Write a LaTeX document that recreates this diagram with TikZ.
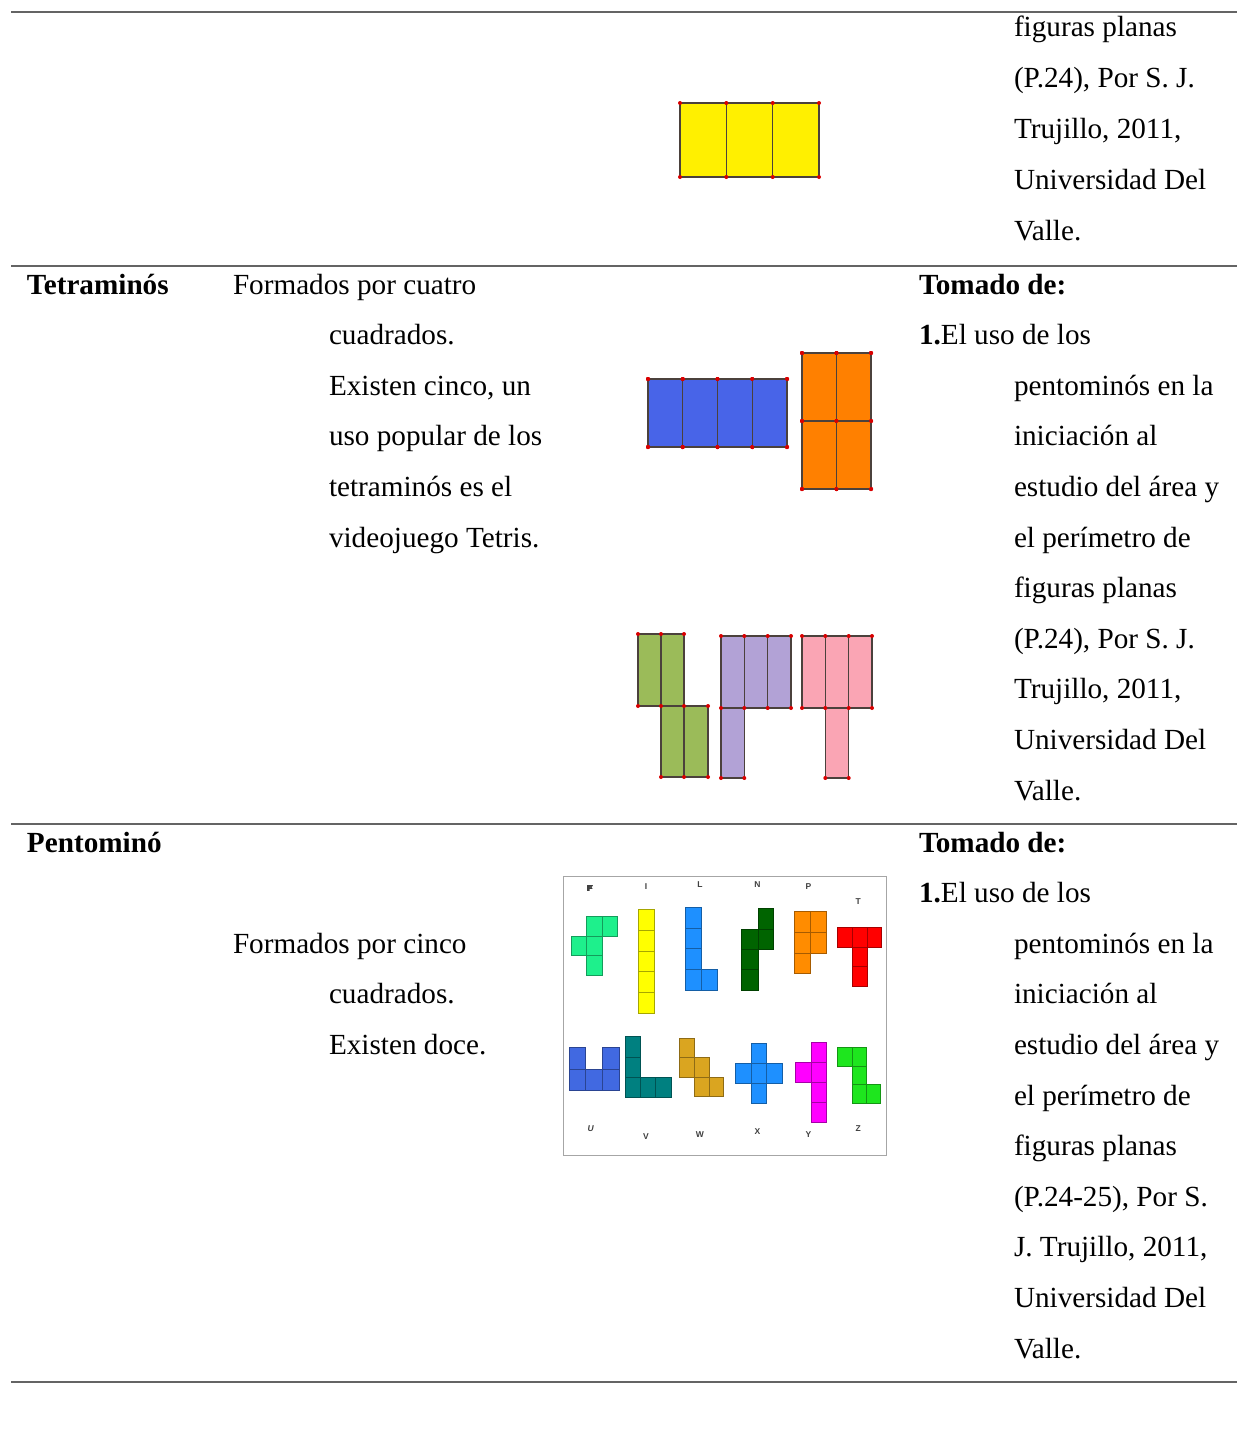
\documentclass[tikz,border=0pt]{standalone}
\usepackage{fontspec}
\setmainfont{Liberation Serif}
\newfontfamily\lsans{Liberation Sans}
\definecolor{rulec}{RGB}{100,100,100}
\definecolor{edgec}{RGB}{75,65,60}
\definecolor{tyellow}{RGB}{255,240,0}
\definecolor{tblue}{RGB}{72,100,232}
\definecolor{torange}{RGB}{255,128,0}
\definecolor{tgreen}{RGB}{155,187,89}
\definecolor{tpurple}{RGB}{178,162,214}
\definecolor{tpink}{RGB}{250,165,180}
\definecolor{pF}{RGB}{30,240,140}
\definecolor{pI}{RGB}{255,255,0}
\definecolor{pL}{RGB}{30,144,255}
\definecolor{pN}{RGB}{0,100,0}
\definecolor{pP}{RGB}{255,140,0}
\definecolor{pT}{RGB}{255,0,0}
\definecolor{pU}{RGB}{65,105,225}
\definecolor{pV}{RGB}{0,128,128}
\definecolor{pW}{RGB}{218,165,32}
\definecolor{pY}{RGB}{255,0,255}
\definecolor{pZ}{RGB}{30,230,30}
\newcommand\tline[4]{\node[txt] (#1) at (#2,#3) {#4};}
\newcommand\tcell[5]{\filldraw[tetcell,fill=#5] (#1,#2) rectangle (#3,#4);}
\newcommand\pcell[5]{\filldraw[pentcell,fill=#5,draw=#5!65!black] (#1,#2) rectangle (#3,#4);}
\begin{document}
\begin{tikzpicture}[x=1pt,y=-1pt,
  txt/.style={anchor=base west,inner sep=0pt,outer sep=0pt,font=\fontsize{29.2}{50.6}\selectfont},
  rulel/.style={draw=rulec,line width=2pt},
  tetcell/.style={draw=edgec,line width=1.3pt},
  vdot/.style={fill=red!85!black},
  pentcell/.style={line width=0.7pt},
  plet/.style={inner sep=0pt,font=\lsans\bfseries\fontsize{8.5}{9}\selectfont,text=black!75}]
\useasboundingbox[fill=white] (0,0) rectangle (1237,1429);

% rules
\draw[rulel] (11,12) -- (1237,12);
\draw[rulel] (11,266) -- (1237,266);
\draw[rulel] (11,824) -- (1237,824);
\draw[rulel] (11,1382) -- (1237,1382);

% ---------- row 1 (continuation) ----------
\tline{ra1}{1014}{37}{figuras planas}
\tline{ra2}{1014}{87.8}{(P.24), Por S. J.}
\tline{ra3}{1014}{138.6}{Trujillo, 2011,}
\tline{ra4}{1014}{189.4}{Universidad Del}
\tline{ra5}{1014}{240.2}{Valle.}

% yellow tromino
\tcell{680}{103}{726.3}{177}{tyellow}
\tcell{726.3}{103}{772.7}{177}{tyellow}
\tcell{772.7}{103}{819}{177}{tyellow}
\foreach \x in {680,726.3,772.7,819} \foreach \y in {103,177} \fill[vdot] (\x,\y) circle (2);

% ---------- row 2 ----------
\tline{tet}{27}{294}{\textbf{Tetraminós}}
\tline{tb1}{233}{294}{Formados por cuatro}
\tline{tb2}{329}{344.6}{cuadrados.}
\tline{tb3}{329}{395.2}{Existen cinco, un}
\tline{tb4}{329}{445.8}{uso popular de los}
\tline{tb5}{329}{496.4}{tetraminós es el}
\tline{tb6}{329}{547}{videojuego Tetris.}
\tline{tc1}{919}{294}{\textbf{Tomado de:}}
\tline{tc2}{919}{344.6}{\textbf{1.}El uso de los}
\tline{tc3}{1014}{395.2}{pentominós en la}
\tline{tc4}{1014}{445.8}{iniciación al}
\tline{tc5}{1014}{496.4}{estudio del área y}
\tline{tc6}{1014}{547}{el perímetro de}
\tline{tc7}{1014}{597.6}{figuras planas}
\tline{tc8}{1014}{648.2}{(P.24), Por S. J.}
\tline{tc9}{1014}{698.8}{Trujillo, 2011,}
\tline{tc10}{1014}{749.4}{Universidad Del}
\tline{tc11}{1014}{800}{Valle.}

% blue I tetromino
\foreach \a/\b in {648/682.75,682.75/717.5,717.5/752.25,752.25/787} \tcell{\a}{379}{\b}{447}{tblue}
\foreach \x in {648,682.75,717.5,752.25,787} \foreach \y in {379,447} \fill[vdot] (\x,\y) circle (2);
% orange O tetromino
\foreach \a/\b in {802/836.5,836.5/871} \foreach \c/\d in {353/421,421/489} \tcell{\a}{\c}{\b}{\d}{torange}
\foreach \x in {802,836.5,871} \foreach \y in {353,421,489} \fill[vdot] (\x,\y) circle (2);
% green S tetromino
\tcell{638}{634}{661}{706}{tgreen}
\tcell{661}{634}{684}{706}{tgreen}
\tcell{661}{706}{684}{777}{tgreen}
\tcell{684}{706}{708}{777}{tgreen}
\foreach \p in {(638,634),(661,634),(684,634),(638,706),(661,706),(684,706),(708,706),(661,777),(684,777),(708,777)} \fill[vdot] \p circle (2);
% purple L tetromino
\tcell{721}{636}{744.3}{708}{tpurple}
\tcell{744.3}{636}{767.7}{708}{tpurple}
\tcell{767.7}{636}{791}{708}{tpurple}
\tcell{721}{708}{744.3}{778}{tpurple}
\foreach \x in {721,744.3,767.7,791} \foreach \y in {636,708} \fill[vdot] (\x,\y) circle (2);
\foreach \p in {(721,778),(744.3,778)} \fill[vdot] \p circle (2);
% pink T tetromino
\tcell{802}{636}{825.3}{708}{tpink}
\tcell{825.3}{636}{848.7}{708}{tpink}
\tcell{848.7}{636}{872}{708}{tpink}
\tcell{825.3}{708}{848.7}{778}{tpink}
\foreach \x in {802,825.3,848.7,872} \foreach \y in {636,708} \fill[vdot] (\x,\y) circle (2);
\foreach \p in {(825.3,778),(848.7,778)} \fill[vdot] \p circle (2);

% ---------- row 3 ----------
\tline{pen}{27}{852}{\textbf{Pentominó}}
\tline{pb1}{233}{953.2}{Formados por cinco}
\tline{pb2}{329}{1003.8}{cuadrados.}
\tline{pb3}{329}{1054.4}{Existen doce.}
\tline{pc1}{919}{852}{\textbf{Tomado de:}}
\tline{pc2}{919}{902.6}{\textbf{1.}El uso de los}
\tline{pc3}{1014}{953.2}{pentominós en la}
\tline{pc4}{1014}{1003.8}{iniciación al}
\tline{pc5}{1014}{1054.4}{estudio del área y}
\tline{pc6}{1014}{1105}{el perímetro de}
\tline{pc7}{1014}{1155.6}{figuras planas}
\tline{pc8}{1014}{1206.2}{(P.24-25), Por S.}
\tline{pc9}{1014}{1256.8}{J. Trujillo, 2011,}
\tline{pc10}{1014}{1307.4}{Universidad Del}
\tline{pc11}{1014}{1358}{Valle.}

% pentomino chart
\begin{scope}[shift={(560,870)},scale=0.33333]
\draw[draw=black!35,line width=1pt] (10,18) rectangle (978,855);
% F
\pcell{80}{138}{127}{198}{pF}\pcell{127}{138}{173}{198}{pF}
\pcell{35}{198}{80}{257}{pF}\pcell{80}{198}{127}{257}{pF}
\pcell{80}{257}{127}{315}{pF}
% I
\foreach \a/\b in {118/180.4,180.4/242.8,242.8/305.2,305.2/367.6,367.6/430} \pcell{234}{\a}{284}{\b}{pI}
% L
\foreach \a/\b in {112/174,174/236,236/298,298/360} \pcell{375}{\a}{424}{\b}{pL}
\pcell{424}{298}{473}{360}{pL}
% N
\pcell{594}{115}{641}{177}{pN}\pcell{594}{177}{641}{237}{pN}
\pcell{545}{177}{594}{237}{pN}\pcell{545}{237}{594}{298}{pN}
\pcell{545}{298}{594}{360}{pN}
% P
\pcell{703}{125}{750}{187}{pP}\pcell{750}{125}{798}{187}{pP}
\pcell{703}{187}{750}{249}{pP}\pcell{750}{187}{798}{249}{pP}
\pcell{703}{249}{750}{311}{pP}
% T
\pcell{832}{171}{878}{232}{pT}\pcell{878}{171}{921}{232}{pT}
\pcell{921}{171}{965}{232}{pT}\pcell{878}{232}{921}{290}{pT}
\pcell{878}{290}{921}{349}{pT}
% U
\pcell{27}{532}{77}{597}{pU}\pcell{127}{532}{177}{597}{pU}
\pcell{27}{597}{77}{662}{pU}\pcell{77}{597}{127}{662}{pU}
\pcell{127}{597}{177}{662}{pU}
% V
\pcell{195}{500}{241}{561}{pV}\pcell{195}{561}{241}{622}{pV}
\pcell{195}{622}{241}{683}{pV}\pcell{241}{622}{287}{683}{pV}
\pcell{287}{622}{333}{683}{pV}
% W
\pcell{357}{505}{403}{563}{pW}\pcell{357}{563}{403}{622}{pW}
\pcell{403}{563}{447}{622}{pW}\pcell{403}{622}{447}{680}{pW}
\pcell{447}{622}{490}{680}{pW}
% X
\pcell{573}{520}{620}{580}{pL}\pcell{527}{580}{573}{640}{pL}
\pcell{573}{580}{620}{640}{pL}\pcell{620}{580}{667}{640}{pL}
\pcell{573}{640}{620}{700}{pL}
% Y
\pcell{755}{517}{800}{577}{pY}\pcell{707}{577}{755}{637}{pY}
\pcell{755}{577}{800}{637}{pY}\pcell{755}{637}{800}{697}{pY}
\pcell{755}{697}{800}{758}{pY}
% Z
\pcell{833}{533}{878}{590}{pZ}\pcell{878}{533}{918}{590}{pZ}
\pcell{878}{590}{918}{643}{pZ}\pcell{878}{643}{918}{700}{pZ}
\pcell{918}{643}{962}{700}{pZ}
% letters
\node[plet] (lF) at (90,55) {F};
\node[plet] (lI) at (258,50) {I};
\node[plet] (lL) at (420,45) {L};
\node[plet] (lN) at (592,45) {N};
\node[plet] (lP) at (745,50) {P};
\node[plet] (lT) at (895,95) {T};
\node[plet] (lU) at (92,775) {\itshape U};
\node[plet] (lV) at (258,800) {V};
\node[plet] (lW) at (420,793) {W};
\node[plet] (lX) at (592,785) {X};
\node[plet] (lY) at (745,793) {Y};
\node[plet] (lZ) at (895,775) {Z};
\end{scope}
\end{tikzpicture}
\end{document}
